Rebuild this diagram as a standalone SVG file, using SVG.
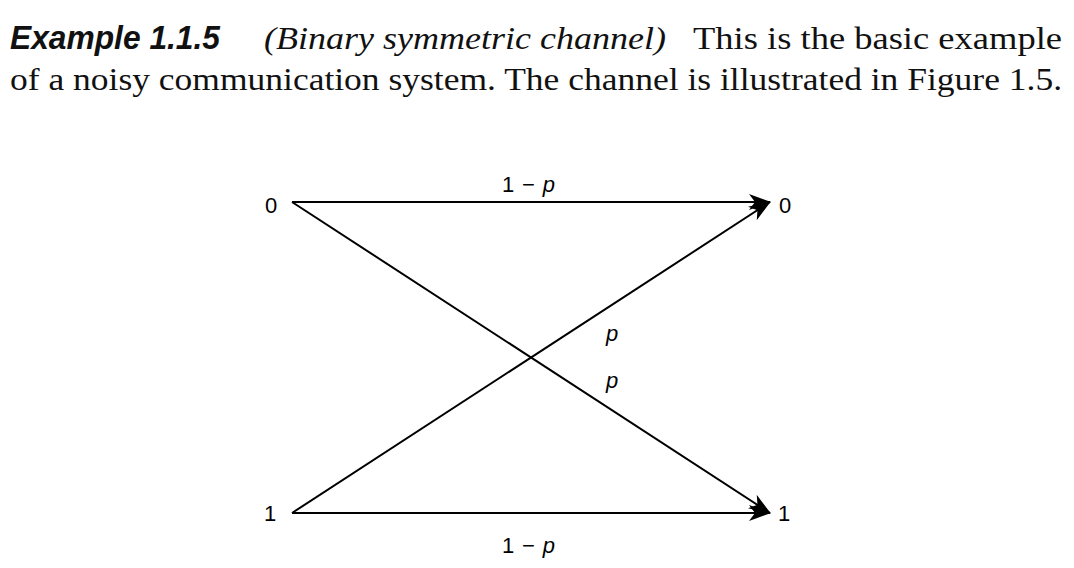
<svg xmlns="http://www.w3.org/2000/svg" width="1074" height="568" viewBox="0 0 1074 568">
<style>
.hdr{font-family:"Liberation Serif",serif;font-size:31px;fill:#111}
.lbl{font-family:"Liberation Sans",Arial,sans-serif;font-size:22px;fill:#000}
.edge{stroke:#000;stroke-width:2;fill:none}
</style>
<defs>
<marker id="arr" viewBox="0 0 22 16" refX="21" refY="8" markerWidth="22" markerHeight="16" markerUnits="userSpaceOnUse" orient="auto">
<path d="M0,0 L22,8 L0,16 L6,8 Z" fill="#000"/>
</marker>
</defs>
<rect width="1074" height="568" fill="#fff"/>
<g id="header">
<text x="10" y="49" font-family="Liberation Sans,Arial,sans-serif" font-weight="bold" font-style="italic" font-size="33" fill="#111" textLength="210" lengthAdjust="spacingAndGlyphs">Example 1.1.5</text>
<text class="hdr" x="264" y="49" font-style="italic" textLength="402" lengthAdjust="spacingAndGlyphs">(Binary symmetric channel)</text>
<text class="hdr" x="693" y="49" textLength="369" lengthAdjust="spacingAndGlyphs">This is the basic example</text>
<text class="hdr" x="10" y="90" textLength="1052" lengthAdjust="spacingAndGlyphs">of a noisy communication system. The channel is illustrated in Figure 1.5.</text>
</g>
<g id="connectors">
<line class="edge" x1="292" y1="202" x2="770" y2="202" marker-end="url(#arr)"/>
<line class="edge" x1="292" y1="202" x2="770" y2="513" marker-end="url(#arr)"/>
<line class="edge" x1="292" y1="513" x2="770" y2="202" marker-end="url(#arr)"/>
<line class="edge" x1="292" y1="513" x2="770" y2="513" marker-end="url(#arr)"/>
<text class="lbl" x="502" y="192" textLength="53" lengthAdjust="spacing">1 − <tspan font-style="italic">p</tspan></text>
<text class="lbl" x="606" y="341" font-style="italic">p</text>
<text class="lbl" x="606" y="388" font-style="italic">p</text>
<text class="lbl" x="502" y="553" textLength="53" lengthAdjust="spacing">1 − <tspan font-style="italic">p</tspan></text>
</g>
<g id="in0"><text class="lbl" x="265" y="213">0</text></g>
<g id="in1"><text class="lbl" x="264" y="521">1</text></g>
<g id="out0"><text class="lbl" x="779" y="213">0</text></g>
<g id="out1"><text class="lbl" x="778" y="521">1</text></g>
</svg>
